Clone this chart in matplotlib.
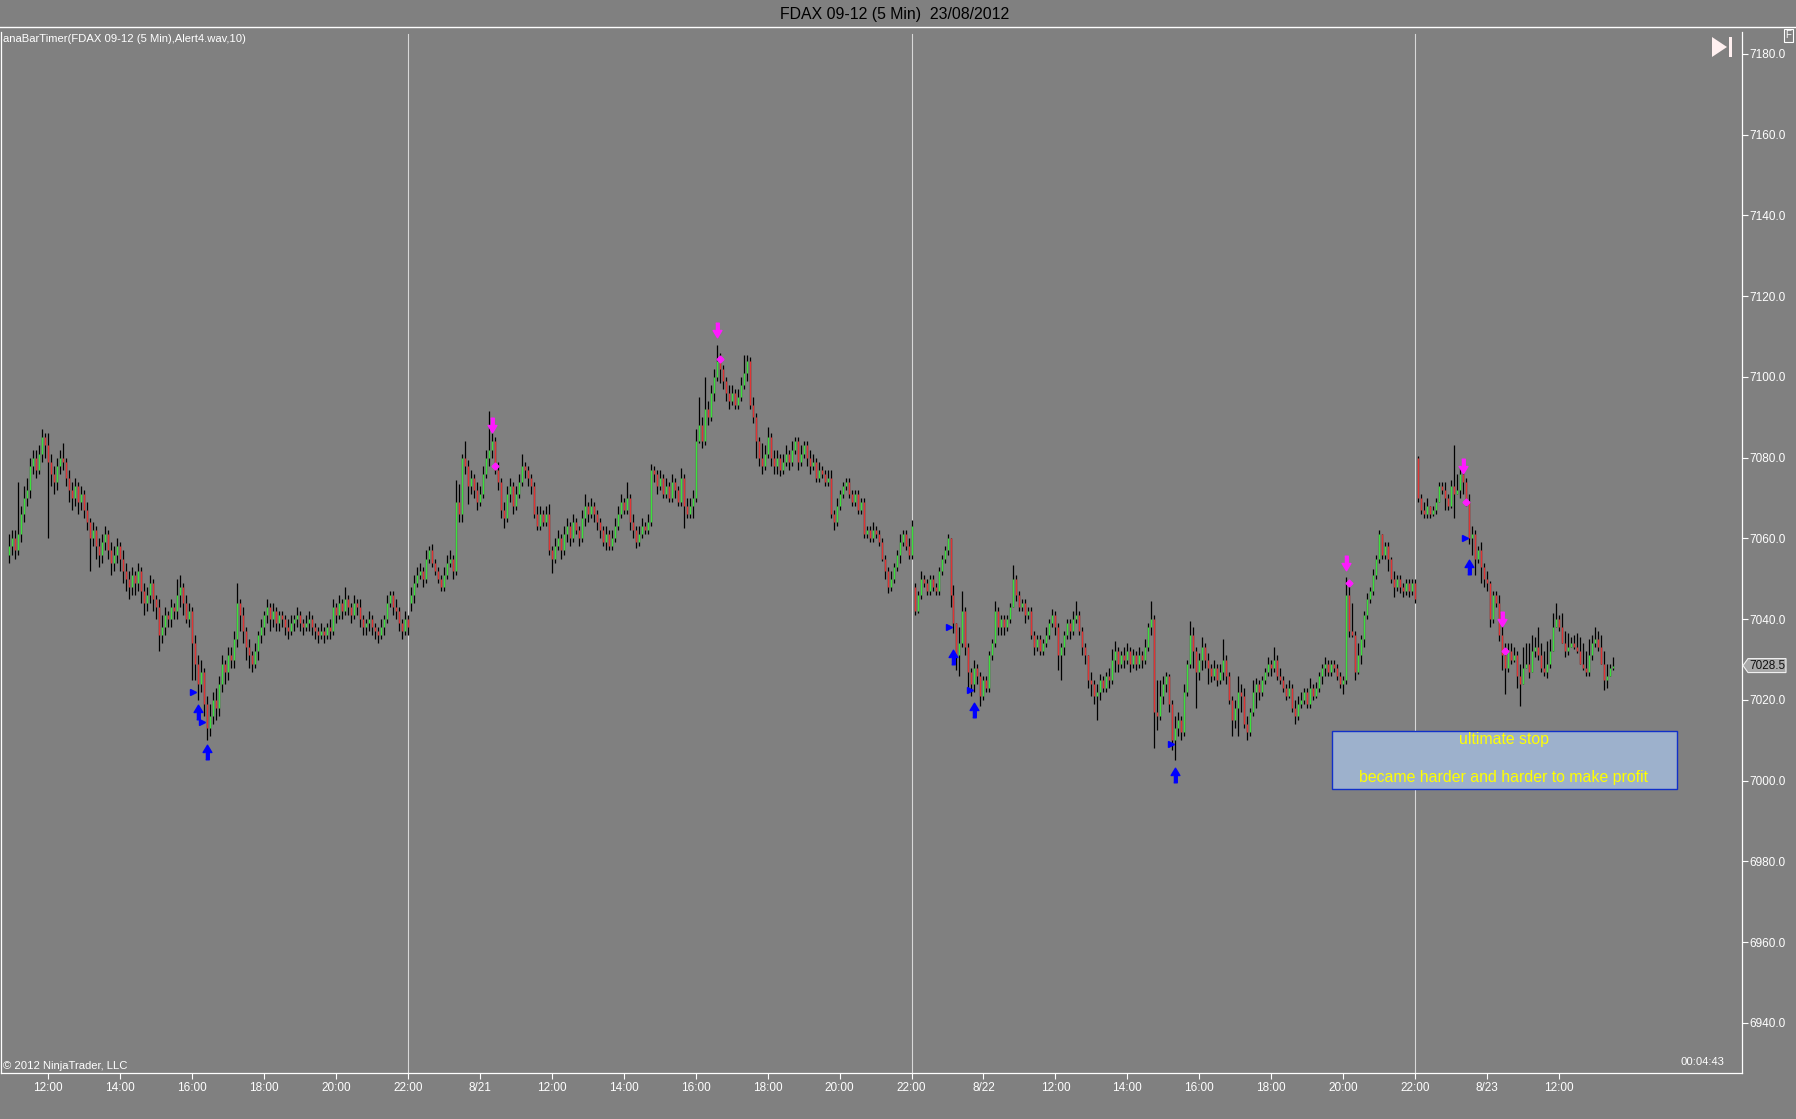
import numpy as np
import matplotlib.pyplot as plt
from matplotlib.patches import Polygon, Rectangle
from matplotlib.lines import Line2D
from matplotlib.transforms import blended_transform_factory

plt.rcParams['font.family'] = ['Liberation Sans', 'DejaVu Sans']

# FDAX 09-12, 5 min bars, four sessions (8/20 from 10:55, 8/21 + 8/22 full, 8/23 to 13:30)
days = ['8/20', '8/21', '8/22', '8/23']
start_min = [10 * 60 + 55, 8 * 60 + 5, 8 * 60 + 5, 8 * 60 + 5]

o_820 = [7056, 7058, 7060, 7057, 7061, 7066, 7070, 7072, 7078, 7080,
         7077, 7081, 7085, 7083, 7079, 7076, 7074, 7078, 7080, 7079,
         7075, 7072, 7070, 7073, 7069, 7071, 7067, 7064, 7060, 7062,
         7058, 7056, 7059, 7061, 7057, 7054, 7056, 7058, 7055, 7052,
         7050, 7048, 7051, 7049, 7052, 7047, 7044, 7046, 7049, 7045,
         7043, 7036, 7038, 7041, 7040, 7043, 7042, 7046, 7048, 7044,
         7040, 7042, 7034, 7029, 7024, 7027, 7019, 7013, 7016, 7020,
         7018, 7024, 7029, 7027, 7031, 7030, 7035, 7044, 7041, 7037,
         7033, 7031, 7029, 7032, 7036, 7038, 7041, 7043, 7040, 7042,
         7039, 7041, 7040, 7038, 7037, 7039, 7040, 7041, 7039, 7038,
         7039, 7040, 7038, 7037, 7036, 7037, 7036, 7038, 7037, 7043,
         7041, 7044, 7042, 7045, 7043, 7041, 7044, 7043, 7040, 7038,
         7039, 7040, 7038, 7037, 7036, 7038, 7040, 7044, 7046, 7043,
         7042, 7039, 7037, 7040]
h_820 = [7061, 7062, 7062, 7074, 7068, 7073, 7075, 7080, 7082, 7082,
         7083, 7087, 7086, 7086, 7081, 7078, 7080, 7082, 7083.5, 7080,
         7077, 7074, 7075, 7074, 7073, 7072, 7069, 7065, 7064, 7063,
         7060, 7061, 7063, 7062, 7059, 7058, 7060, 7059, 7057, 7054,
         7052, 7053, 7052, 7054, 7053, 7049, 7048, 7051, 7050, 7046,
         7045, 7041, 7043, 7042, 7045, 7044, 7050, 7051, 7049, 7046,
         7044, 7043, 7036, 7031, 7030, 7028, 7021, 7019, 7022, 7023,
         7026, 7031, 7030, 7033, 7033, 7037, 7049, 7045, 7043, 7038,
         7035, 7032, 7034, 7037, 7040, 7042, 7045, 7044, 7044, 7043,
         7042, 7042, 7041, 7040, 7041, 7041, 7043, 7042, 7040, 7041,
         7042, 7041, 7039, 7038, 7039, 7038, 7039, 7040, 7045, 7044,
         7046, 7045, 7048, 7046, 7044, 7046, 7045, 7045, 7041, 7040,
         7042, 7041, 7039, 7038, 7040, 7041, 7046, 7047, 7047, 7045,
         7043, 7040, 7042, 7041]
l_820 = [7054, 7056, 7055, 7056, 7059, 7064, 7068, 7070, 7076, 7075,
         7076, 7079, 7080, 7060, 7073, 7071, 7072, 7076, 7077, 7073,
         7069, 7067, 7068, 7066, 7067, 7065, 7062, 7052, 7058, 7055,
         7053, 7054, 7057, 7055, 7051, 7052, 7054, 7052, 7049, 7047,
         7045, 7046, 7046, 7047, 7044, 7041, 7042, 7044, 7042, 7040,
         7032, 7034, 7036, 7038, 7038, 7040, 7040, 7043, 7041, 7039,
         7038, 7025, 7025, 7020, 7022, 7016, 7010, 7011, 7014, 7015,
         7016, 7022, 7024, 7025, 7028, 7028, 7033, 7037, 7034, 7030,
         7028, 7027, 7028, 7030, 7034, 7036, 7039, 7037, 7038, 7037,
         7037, 7038, 7036, 7035, 7036, 7037, 7038, 7037, 7036, 7037,
         7037, 7036, 7035, 7034, 7035, 7034, 7035, 7035, 7036, 7039,
         7040, 7040, 7041, 7041, 7039, 7040, 7041, 7038, 7036, 7036,
         7037, 7036, 7035, 7034, 7035, 7036, 7039, 7043, 7041, 7040,
         7037, 7035, 7036, 7036]
c_820 = [7058, 7060, 7057, 7061, 7066, 7070, 7072, 7078, 7080, 7077,
         7081, 7085, 7083, 7079, 7076, 7074, 7078, 7080, 7079, 7075,
         7072, 7070, 7073, 7069, 7071, 7067, 7064, 7060, 7062, 7058,
         7056, 7059, 7061, 7057, 7054, 7056, 7058, 7055, 7052, 7050,
         7048, 7051, 7049, 7052, 7047, 7044, 7046, 7049, 7045, 7043,
         7036, 7038, 7041, 7040, 7043, 7042, 7046, 7048, 7044, 7040,
         7042, 7034, 7029, 7024, 7027, 7019, 7013, 7016, 7020, 7018,
         7024, 7029, 7027, 7031, 7030, 7035, 7044, 7041, 7037, 7033,
         7031, 7029, 7032, 7036, 7038, 7041, 7043, 7040, 7042, 7039,
         7041, 7040, 7038, 7037, 7039, 7040, 7041, 7039, 7038, 7039,
         7040, 7038, 7037, 7036, 7037, 7036, 7038, 7037, 7043, 7041,
         7044, 7042, 7045, 7043, 7041, 7044, 7043, 7040, 7038, 7039,
         7040, 7038, 7037, 7036, 7038, 7040, 7044, 7046, 7043, 7042,
         7039, 7037, 7040, 7038]

o_821 = [7044, 7046, 7049, 7051, 7052, 7050, 7055, 7057, 7054, 7052,
         7050, 7048, 7051, 7054, 7055, 7052, 7069, 7066, 7080, 7078,
         7073, 7075, 7072, 7069, 7071, 7076, 7080, 7082, 7084, 7077,
         7074, 7067, 7065, 7071, 7073, 7068, 7071, 7074, 7078, 7077,
         7075, 7073, 7066, 7063, 7066, 7064, 7066, 7057, 7055, 7058,
         7060, 7057, 7061, 7063, 7060, 7064, 7062, 7060, 7065, 7068,
         7066, 7068, 7066, 7064, 7062, 7059, 7061, 7058, 7060, 7063,
         7066, 7069, 7067, 7070, 7064, 7062, 7059, 7061, 7063, 7062,
         7064, 7077, 7076, 7073, 7075, 7071, 7073, 7070, 7074, 7072,
         7069, 7075, 7068, 7066, 7068, 7070, 7084, 7088, 7084, 7092,
         7090, 7096, 7100, 7104, 7102, 7099, 7096, 7094, 7096, 7093,
         7095, 7098, 7101, 7104, 7093, 7090, 7084, 7080, 7078, 7081,
         7085, 7080, 7078, 7080, 7077, 7079, 7081, 7079, 7082, 7084,
         7079, 7081, 7083, 7080, 7078, 7079, 7075, 7077, 7076, 7074,
         7075, 7066, 7064, 7068, 7071, 7073, 7074, 7071, 7069, 7071,
         7067, 7069, 7061, 7062, 7060, 7062, 7061, 7059, 7055, 7052,
         7048, 7050, 7053, 7056, 7059, 7061, 7058, 7056]
h_821 = [7048, 7051, 7053, 7054, 7053, 7057, 7058, 7058.5, 7055, 7053,
         7051, 7053, 7056, 7057, 7056, 7074.5, 7073.5, 7081, 7084, 7079.5,
         7077, 7076, 7074, 7073, 7078, 7082, 7091.5, 7086, 7085, 7079,
         7075, 7069, 7073, 7075, 7074, 7073, 7076, 7081, 7079, 7078,
         7076, 7074, 7068, 7068, 7067, 7068, 7068.5, 7058, 7060, 7062,
         7061, 7063, 7065, 7064, 7066, 7065, 7063, 7067, 7071, 7069,
         7070, 7069, 7067, 7065, 7063, 7063, 7062, 7062, 7065, 7068,
         7071, 7070, 7074, 7071, 7066, 7063, 7063, 7065, 7064, 7066,
         7078.5, 7078, 7077, 7077, 7076, 7075, 7074, 7076, 7075, 7073,
         7077.5, 7076, 7070, 7070, 7072, 7087, 7095, 7090, 7100, 7094,
         7098, 7102, 7108, 7106, 7103, 7100, 7098, 7098, 7097, 7097,
         7100, 7105.5, 7105.5, 7105, 7095, 7091, 7085, 7083.5, 7083, 7087.5,
         7086, 7082, 7082, 7081, 7081, 7083, 7082, 7084, 7085, 7085,
         7083, 7084, 7084, 7082, 7081, 7080, 7079, 7078, 7077, 7077,
         7077, 7067, 7070, 7072, 7074, 7075, 7075, 7072, 7072, 7072,
         7070, 7070, 7063, 7063, 7064, 7063, 7062, 7060, 7056, 7053,
         7052, 7054, 7057, 7061, 7062, 7062, 7060, 7064.5]
l_821 = [7042, 7044, 7048, 7050, 7048, 7049, 7054, 7053, 7051, 7049,
         7047, 7047, 7050, 7053, 7050, 7051, 7064, 7064, 7076, 7068.5,
         7071, 7070, 7067, 7068, 7070, 7075, 7078, 7080, 7076, 7072,
         7065, 7062.5, 7064, 7069, 7066, 7067, 7070, 7073, 7075, 7073,
         7071, 7065, 7062, 7062, 7063, 7063, 7056, 7051.5, 7054, 7057,
         7055, 7056, 7059, 7058, 7059, 7061, 7058, 7059, 7063, 7064,
         7065, 7064, 7062, 7060, 7058, 7057, 7057, 7057, 7059, 7062,
         7065, 7066, 7066, 7062, 7060, 7057.5, 7058, 7060, 7061, 7061,
         7063, 7074, 7071, 7072, 7070, 7070, 7069, 7069, 7070, 7068,
         7068, 7062.5, 7065, 7065, 7065, 7069, 7083.5, 7082.5, 7083, 7088,
         7089, 7094, 7099, 7098.5, 7097, 7094, 7092, 7093, 7092, 7092,
         7094, 7097, 7099, 7092, 7088.5, 7080, 7078, 7076, 7077, 7080,
         7078, 7076, 7076, 7075.5, 7076, 7078, 7077, 7078, 7081, 7077,
         7078, 7080, 7078, 7076, 7077, 7074, 7074, 7075, 7073, 7073,
         7065, 7062, 7063, 7067, 7070, 7072, 7070, 7068, 7068, 7066,
         7066, 7060, 7060, 7059, 7059, 7060, 7058, 7054.5, 7050, 7046.5,
         7047, 7049, 7052, 7054, 7058, 7057, 7055, 7055]
c_821 = [7046, 7049, 7051, 7052, 7050, 7055, 7057, 7054, 7052, 7050,
         7048, 7051, 7054, 7055, 7052, 7069, 7066, 7080, 7078, 7073,
         7075, 7072, 7069, 7071, 7076, 7080, 7082, 7084, 7077, 7074,
         7067, 7065, 7071, 7073, 7068, 7071, 7074, 7078, 7077, 7075,
         7073, 7066, 7063, 7066, 7064, 7066, 7057, 7055, 7058, 7060,
         7057, 7061, 7063, 7060, 7064, 7062, 7060, 7065, 7068, 7066,
         7068, 7066, 7064, 7062, 7059, 7061, 7058, 7060, 7063, 7066,
         7069, 7067, 7070, 7064, 7062, 7059, 7061, 7063, 7062, 7064,
         7077, 7076, 7073, 7075, 7071, 7073, 7070, 7074, 7072, 7069,
         7075, 7068, 7066, 7068, 7070, 7084, 7088, 7084, 7092, 7090,
         7096, 7100, 7104, 7102, 7099, 7096, 7094, 7096, 7093, 7095,
         7098, 7101, 7104, 7093, 7090, 7084, 7080, 7078, 7081, 7085,
         7080, 7078, 7080, 7077, 7079, 7081, 7079, 7082, 7084, 7079,
         7081, 7083, 7080, 7078, 7079, 7075, 7077, 7076, 7074, 7075,
         7066, 7064, 7068, 7071, 7073, 7074, 7071, 7069, 7071, 7067,
         7069, 7061, 7062, 7060, 7062, 7061, 7059, 7055, 7052, 7048,
         7050, 7053, 7056, 7059, 7061, 7058, 7056, 7063]

o_822 = [7048, 7042, 7046, 7050, 7049, 7047, 7050, 7048, 7047, 7052,
         7055, 7057, 7060, 7046, 7039, 7031, 7034, 7042, 7033, 7027,
         7024, 7028, 7026, 7021, 7025, 7023, 7031, 7034, 7042, 7038,
         7040, 7038, 7040, 7043, 7050, 7046, 7043, 7044, 7041, 7042,
         7036, 7033, 7035, 7032, 7034, 7036, 7039, 7041, 7038, 7031,
         7033, 7036, 7039, 7037, 7040, 7041, 7037, 7033, 7031, 7025,
         7024, 7021, 7022, 7025, 7023, 7026, 7025, 7030, 7032, 7029,
         7031, 7030, 7032, 7029, 7031, 7029, 7031, 7030, 7033, 7038,
         7040, 7017, 7016, 7021, 7024, 7026, 7019, 7010, 7013, 7015,
         7012, 7022, 7029, 7036, 7032, 7027, 7030, 7033, 7030, 7028,
         7026, 7028, 7025, 7027, 7030, 7026, 7020, 7015, 7018, 7022,
         7021, 7014, 7012, 7017, 7022, 7024, 7022, 7025, 7027, 7029,
         7028, 7030, 7026, 7025, 7023, 7021, 7023, 7018, 7016, 7019,
         7020, 7022, 7019, 7023, 7021, 7023, 7026, 7028, 7029, 7027,
         7029, 7028, 7026, 7024, 7025, 7046, 7037, 7036, 7027, 7031,
         7035, 7041, 7045, 7047, 7051, 7055, 7061, 7056, 7058, 7055,
         7050, 7048, 7050, 7048, 7047, 7049, 7047, 7049]
h_822 = [7049, 7047, 7052, 7051, 7050, 7051, 7051, 7049, 7053, 7056,
         7058, 7061, 7060, 7048.5, 7039, 7038, 7047, 7043, 7034, 7028,
         7030, 7029, 7027, 7026, 7026, 7032, 7035, 7044.5, 7043, 7041,
         7041, 7041, 7044, 7053.5, 7051, 7047, 7045, 7045, 7043, 7043,
         7037, 7036, 7036, 7035, 7038, 7040, 7042.5, 7042, 7039, 7034,
         7037, 7040, 7040, 7042, 7044.5, 7042, 7038, 7034, 7031, 7027,
         7025, 7024, 7026.5, 7026, 7027, 7028, 7032.5, 7034.5, 7033, 7032,
         7033, 7034, 7033, 7032.5, 7032, 7033, 7032, 7035, 7039, 7044.5,
         7041, 7025, 7025, 7026, 7027, 7026.5, 7020, 7016, 7017, 7016,
         7024, 7030, 7039.5, 7038, 7033, 7031.5, 7035.5, 7034, 7031.5, 7029,
         7030, 7029, 7029, 7035, 7031, 7027, 7021, 7020, 7026, 7024,
         7023, 7016, 7018, 7025, 7025.5, 7025, 7026, 7028, 7030.5, 7030,
         7033, 7031, 7028, 7026, 7024, 7025, 7024, 7020, 7021, 7022,
         7023, 7023, 7025.5, 7024, 7024.5, 7027, 7029, 7030.5, 7030, 7030,
         7030, 7029, 7027, 7026, 7050.5, 7049.5, 7044, 7037, 7034, 7036,
         7042, 7046.5, 7048, 7052.5, 7056, 7062, 7061, 7059, 7059, 7055.5,
         7052, 7051, 7051, 7049, 7050, 7050, 7050, 7050]
l_822 = [7041, 7041.5, 7045, 7048, 7046, 7046, 7047, 7046, 7046, 7051,
         7054, 7056, 7043, 7036.5, 7027.5, 7026, 7033, 7031, 7023, 7021,
         7022, 7024, 7018.5, 7020, 7022, 7022, 7030, 7033, 7036, 7036,
         7036, 7037, 7039, 7043, 7044.5, 7042, 7042, 7039, 7040, 7035,
         7031, 7032, 7031, 7031, 7033, 7035, 7038, 7036, 7027.5, 7025,
         7031, 7035, 7035, 7036, 7039, 7036, 7031, 7029, 7023, 7021,
         7019, 7015, 7020, 7022, 7022, 7023, 7024, 7027, 7027, 7028,
         7028, 7029, 7027, 7028, 7027.5, 7028, 7028, 7029, 7032, 7036,
         7008, 7012.5, 7015, 7019, 7022, 7017, 7007.5, 7005, 7011, 7010,
         7011, 7021, 7028, 7028, 7018, 7025, 7027.5, 7028, 7024, 7024.5,
         7025, 7023.5, 7024, 7025, 7024, 7019, 7011, 7013, 7011, 7017,
         7013, 7010, 7011, 7016, 7018, 7020, 7021, 7024, 7026, 7026,
         7027, 7025, 7024, 7022, 7020, 7020.5, 7017, 7014, 7015, 7018,
         7019, 7018, 7018, 7020, 7020.5, 7022, 7024, 7026, 7026, 7026,
         7027, 7025, 7023, 7021.5, 7024, 7035.5, 7035.5, 7025, 7026.5, 7029,
         7033, 7040, 7044, 7046, 7050, 7054, 7055, 7055, 7052, 7049,
         7045.5, 7047, 7046.5, 7045.5, 7046, 7045.5, 7046, 7044]
c_822 = [7042, 7046, 7050, 7049, 7047, 7050, 7048, 7047, 7052, 7055,
         7057, 7060, 7046, 7039, 7031, 7034, 7042, 7033, 7027, 7024,
         7028, 7026, 7021, 7025, 7023, 7031, 7034, 7042, 7038, 7040,
         7038, 7040, 7043, 7050, 7046, 7043, 7044, 7041, 7042, 7036,
         7033, 7035, 7032, 7034, 7036, 7039, 7041, 7038, 7031, 7033,
         7036, 7039, 7037, 7040, 7041, 7037, 7033, 7031, 7025, 7024,
         7021, 7022, 7025, 7023, 7026, 7025, 7030, 7032, 7029, 7031,
         7030, 7032, 7029, 7031, 7029, 7031, 7030, 7033, 7038, 7040,
         7017, 7016, 7021, 7024, 7026, 7019, 7010, 7013, 7015, 7012,
         7022, 7029, 7036, 7032, 7027, 7030, 7033, 7030, 7028, 7026,
         7028, 7025, 7027, 7030, 7026, 7020, 7015, 7018, 7022, 7021,
         7014, 7012, 7017, 7022, 7024, 7022, 7025, 7027, 7029, 7028,
         7030, 7026, 7025, 7023, 7021, 7023, 7018, 7016, 7019, 7020,
         7022, 7019, 7023, 7021, 7023, 7026, 7028, 7029, 7027, 7029,
         7028, 7026, 7024, 7025, 7046, 7037, 7036, 7027, 7031, 7035,
         7041, 7045, 7047, 7051, 7055, 7061, 7056, 7058, 7055, 7050,
         7048, 7050, 7048, 7047, 7049, 7047, 7049, 7045]

o_823 = [7080, 7070, 7067, 7066, 7068, 7066, 7067, 7069, 7073, 7072,
         7070, 7068, 7073, 7071, 7072, 7076, 7074, 7069, 7060, 7061,
         7055, 7057, 7053, 7050, 7049, 7040, 7046, 7044, 7036, 7031,
         7028, 7032, 7030, 7031, 7026, 7024, 7028, 7029, 7027, 7032,
         7033, 7031, 7028, 7027, 7029, 7032, 7038, 7040, 7038, 7034,
         7032, 7033, 7034, 7033, 7032, 7029, 7028, 7027, 7031, 7034,
         7035, 7033, 7029, 7025, 7026, 7028]
h_823 = [7080.5, 7071, 7069, 7070, 7068, 7068, 7070, 7074, 7074, 7074,
         7071, 7074.5, 7083, 7076, 7078, 7076.5, 7075, 7071, 7063, 7062,
         7058, 7059, 7054, 7052, 7049.5, 7047, 7047, 7046, 7040.5, 7034,
         7034, 7034, 7033, 7032, 7029, 7033, 7034, 7034, 7036, 7035.5,
         7038, 7034, 7032, 7034.5, 7035, 7041.5, 7044, 7041, 7041.5, 7037,
         7036.5, 7035.5, 7036, 7036.5, 7035.5, 7034, 7032, 7035, 7036, 7038,
         7037, 7036, 7032, 7029, 7029, 7030.5]
l_823 = [7069, 7066, 7065, 7065, 7065, 7065.5, 7066, 7069, 7071, 7067,
         7067, 7067.5, 7065, 7071, 7070, 7071, 7068, 7058.5, 7056, 7051,
         7054, 7049, 7048, 7047, 7038, 7039, 7043, 7034.5, 7027.5, 7021.5,
         7027, 7029, 7029.5, 7023, 7018.5, 7026, 7028, 7025.5, 7029.5, 7030.5,
         7030, 7027, 7026, 7025.5, 7028, 7035.5, 7038, 7037, 7034, 7030.5,
         7031, 7033, 7032.5, 7031.5, 7029, 7027.5, 7026, 7026, 7030, 7033,
         7032, 7029, 7022.5, 7023, 7026, 7027.5]
c_823 = [7070, 7067, 7066, 7068, 7066, 7067, 7069, 7073, 7072, 7070,
         7068, 7073, 7071, 7072, 7076, 7074, 7069, 7060, 7061, 7055,
         7057, 7053, 7050, 7049, 7040, 7046, 7044, 7036, 7031, 7028,
         7032, 7030, 7031, 7026, 7024, 7028, 7029, 7027, 7032, 7033,
         7031, 7028, 7027, 7029, 7032, 7038, 7040, 7038, 7034, 7032,
         7033, 7034, 7033, 7032, 7029, 7028, 7027, 7031, 7034, 7035,
         7033, 7029, 7025, 7026, 7028, 7028.5]

# signal markers (bar number, price)
buy_tri_bar = [62, 65, 314, 321, 388, 486]
buy_tri_px = [7022, 7014.5, 7038, 7022.5, 7009, 7060]
buy_arrow_bar = [63, 66, 315, 322, 389, 487]
buy_arrow_px = [7017, 7007, 7030.5, 7017.5, 7001.5, 7053]
sell_arrow_bar = [161, 236, 446, 485, 498]
sell_arrow_px = [7088, 7111.5, 7054, 7078, 7040]
sell_dot_bar = [162, 237, 447, 486, 499]
sell_dot_px = [7078, 7104.5, 7049, 7069, 7032]

note_lines = ['ultimate stop', 'became harder and harder to make profit']

sessions = [(o_820, h_820, l_820, c_820), (o_821, h_821, l_821, c_821),
            (o_822, h_822, l_822, c_822), (o_823, h_823, l_823, c_823)]
op = np.concatenate([s[0] for s in sessions]).astype(float)
hi = np.concatenate([s[1] for s in sessions]).astype(float)
lo = np.concatenate([s[2] for s in sessions]).astype(float)
cl = np.concatenate([s[3] for s in sessions]).astype(float)
x = np.arange(len(cl))

# bar timestamps -> tick positions
bar_min, bar_day, session_end = [], [], []
for d, (s, m0) in enumerate(zip(sessions, start_min)):
    for i in range(len(s[3])):
        bar_min.append(m0 + 5 * i)
        bar_day.append(days[d])
    session_end.append(len(bar_min) - 1)
tick_pos, tick_lab = [], []
for i, (m, d) in enumerate(zip(bar_min, bar_day)):
    if m % 120 == 0 and m >= 600:
        tick_pos.append(i)
        tick_lab.append(d if m == 600 else '%d:%02d' % (m // 60, m % 60))

W, H = 1796, 1119
bg = '#808080'
fig = plt.figure(figsize=(W / 100, H / 100), dpi=100, facecolor=bg)
ax = fig.add_axes([1 / W, 1 - 1073 / H, 1741 / W, (1073 - 32) / H])
ax.set_facecolor(bg)

for e in session_end[:-1]:
    ax.axvline(e, ymax=0.998, color='#D8D8D8', lw=0.8, zorder=1)

up_arrow = [(-0.12, -0.5), (0.12, -0.5), (0.12, 0.0), (0.3, 0.0),
            (0.0, 0.5), (-0.3, 0.0), (-0.12, 0.0)]
down_arrow = [(px, -py) for px, py in up_arrow]

ax.vlines(x, np.minimum(lo, np.minimum(op, cl)), np.maximum(hi, np.maximum(op, cl)),
          color='black', lw=0.9, zorder=2)
up = cl > op
dn = cl < op
ax.vlines(x[up], op[up], cl[up], color='#3CE03C', lw=1.0, zorder=3)
ax.vlines(x[dn], cl[dn], op[dn], color='#E03434', lw=1.0, zorder=3)

ax.plot(np.array(buy_tri_bar) - 0.5, buy_tri_px, ls='none', marker='>', ms=5,
        color='#0000FF', mec='#0000FF', zorder=4)
ax.plot(buy_arrow_bar, buy_arrow_px, ls='none', marker=up_arrow, ms=10.5,
        color='#0000FF', mec='#0000FF', zorder=4)
ax.plot(sell_arrow_bar, sell_arrow_px, ls='none', marker=down_arrow, ms=10.5,
        color='#FF1AFF', mec='#FF1AFF', zorder=4)
ax.plot(sell_dot_bar, sell_dot_px, ls='none', marker='D', ms=3.5,
        color='#FF1AFF', mec='#FF1AFF', zorder=4)

# note box
ax.add_patch(Rectangle((441.3, 6997.9), 115.0, 14.4, fc='#9DB1CC', ec='#1030C8',
                       lw=1.0, zorder=5))
ax.text(498.5, 7010.1, note_lines[0], color='#FFFF00', fontsize=11.4,
        ha='center', va='center', zorder=6)
ax.text(498.5, 7000.8, note_lines[1], color='#FFFF00', fontsize=11.4,
        ha='center', va='center', zorder=6)

ax.set_xlim(-2.7, 578.0)
ax.set_ylim(6927.6, 7185.4)

ax.set_xticks(tick_pos)
ax.set_xticklabels(tick_lab)
yt = np.arange(6940, 7181, 20)
ax.set_yticks(yt)
ax.set_yticklabels(['%.1f' % v for v in yt])
ax.yaxis.tick_right()
ax.tick_params(axis='both', colors='white', labelcolor='white', labelsize=8.5,
               length=4, width=0.8, direction='out')
ax.tick_params(axis='y', pad=1.5)
ax.tick_params(axis='x', pad=2.5)
for side in ['right', 'bottom', 'left']:
    ax.spines[side].set_color('white')
    ax.spines[side].set_linewidth(0.9)
ax.spines['top'].set_visible(False)

# last price tag
last = cl[-1]
tr = blended_transform_factory(ax.transAxes, ax.transData)
px = 1 / 1741
dy = 7 / 4.038
ax.add_patch(Polygon([(1 + px, last), (1 + 6 * px, last + dy), (1 + 44 * px, last + dy),
                      (1 + 44 * px, last - dy), (1 + 6 * px, last - dy)], closed=True,
                     transform=tr, fc='#A9A9A9', ec='#F0F0F0', lw=0.8, clip_on=False, zorder=6))
ax.text(1 + 25.5 * px, last, '%.1f' % last, transform=tr, fontsize=8.5, color='#101010',
        ha='center', va='center', clip_on=False, zorder=7)

ax.text(2 / 1741, 1 - 7 / 1041, 'anaBarTimer(FDAX 09-12 (5 Min),Alert4.wav,10)',
        transform=ax.transAxes, color='white', fontsize=8.1, ha='left', va='center')
ax.text(2 / 1741, 7 / 1041, '\u00a9 2012 NinjaTrader, LLC', transform=ax.transAxes,
        color='white', fontsize=8.1, ha='left', va='center')
ax.text(1701 / 1741, 11 / 1041, '00:04:43', transform=ax.transAxes,
        color='white', fontsize=8.1, ha='center', va='center')

fig.text(895 / W, 1 - 14 / H, 'FDAX 09-12 (5 Min)  23/08/2012', color='black',
         fontsize=11.4, ha='center', va='center')
fig.add_artist(Line2D([0, 1], [1 - 27 / H, 1 - 27 / H], transform=fig.transFigure,
                      color='white', lw=1.0))
fig.text(1788.5 / W, 1 - 35.5 / H, 'F', color='white', fontsize=7, ha='center', va='center',
         bbox=dict(boxstyle='square,pad=0.2', fc=bg, ec='white', lw=0.8))


def fxy(px_, py_):
    return (px_ / W, 1 - py_ / H)


fig.add_artist(Polygon([fxy(1712, 37), fxy(1712, 57), fxy(1727, 47)], closed=True,
                       transform=fig.transFigure, fc='#FFF0F0', ec='none'))
fig.add_artist(Polygon([fxy(1729, 37), fxy(1732, 37), fxy(1732, 57), fxy(1729, 57)],
                       closed=True, transform=fig.transFigure, fc='#FFF0F0', ec='none'))

fig.savefig('out.png', dpi=100, facecolor=bg)
